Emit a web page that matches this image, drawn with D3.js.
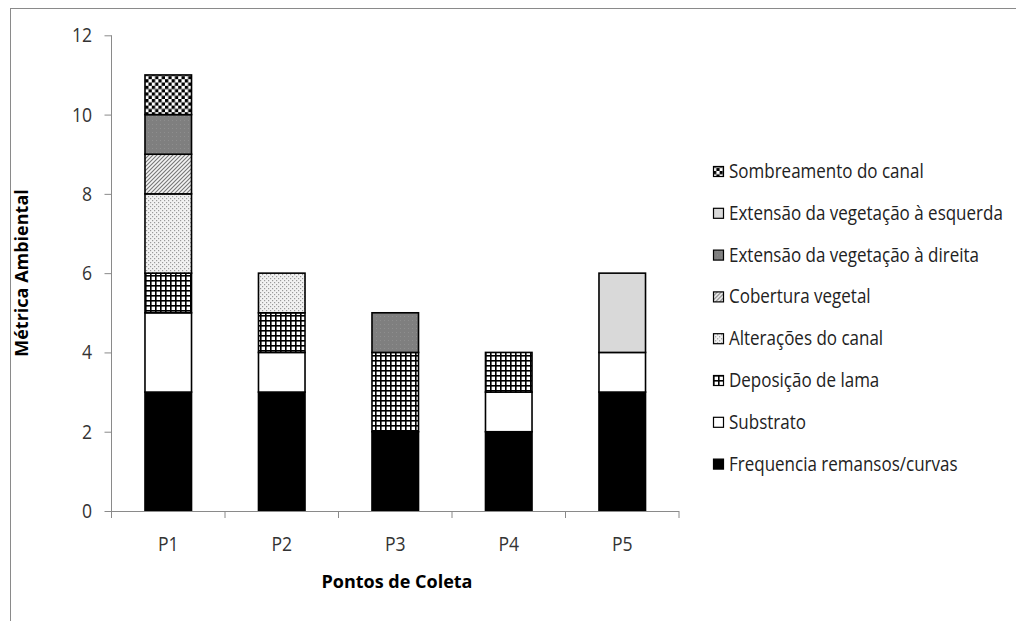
<!DOCTYPE html>
<html><head><meta charset="utf-8">
<script src="https://cdn.jsdelivr.net/npm/d3@7"></script>
<style>body{margin:0;background:#fff}svg{display:block}text{font-family:"Open Sans",sans-serif}</style>
</head><body><svg id="c" width="1016" height="621"></svg>
<script>
const categories = ["P1","P2","P3","P4","P5"];
const seriesNames = ["Frequencia remansos/curvas","Substrato","Deposição de lama","Alterações do canal","Cobertura vegetal","Extensão da vegetação à direita","Extensão da vegetação à esquerda","Sombreamento do canal"];
const frequencia = [3,3,2,2,3];
const substrato = [2,1,0,1,1];
const deposicao = [1,1,2,1,0];
const alteracoes = [2,1,0,0,0];
const cobertura = [1,0,0,0,0];
const extDireita = [1,0,1,0,0];
const extEsquerda = [0,0,0,0,2];
const sombreamento = [1,0,0,0,0];
const yTicks = [0,2,4,6,8,10,12];

const seriesValues = [frequencia,substrato,deposicao,alteracoes,cobertura,extDireita,extEsquerda,sombreamento];
const svg = d3.select("#c");
const defs = svg.append("defs");
function pat(id,w,h,draw){const p=defs.append("pattern").attr("id",id).attr("patternUnits","userSpaceOnUse").attr("width",w).attr("height",h);draw(p);}
pat("p-grid",5,5,p=>{p.append("rect").attr("width",5).attr("height",5).attr("fill","#fff");p.append("rect").attr("width",5).attr("height",1.6).attr("fill","#000");p.append("rect").attr("width",1.6).attr("height",5).attr("fill","#000");});
pat("p-dots",4,4,p=>{p.append("rect").attr("width",4).attr("height",4).attr("fill","#f2f2f2");p.append("rect").attr("width",1.2).attr("height",1.2).attr("fill","#9a9a9a");p.append("rect").attr("x",2).attr("y",2).attr("width",1.2).attr("height",1.2).attr("fill","#9a9a9a");});
pat("p-diag",4,4,p=>{p.append("rect").attr("width",4).attr("height",4).attr("fill","#f4f4f4");p.append("path").attr("d","M-1,5 L5,-1 M-1,1 L1,-1 M3,5 L5,3").attr("stroke","#777").attr("stroke-width",1.1);});
pat("p-dark",4,4,p=>{p.append("rect").attr("width",4).attr("height",4).attr("fill","#7f7f7f");p.append("rect").attr("width",1).attr("height",1).attr("fill","#8e8e8e");});
pat("p-check",6.6,6.6,p=>{p.append("rect").attr("width",6.6).attr("height",6.6).attr("fill","#fff");p.append("rect").attr("width",3.3).attr("height",3.3).attr("fill","#000");p.append("rect").attr("x",3.3).attr("y",3.3).attr("width",3.3).attr("height",3.3).attr("fill","#000");});
const fills = ["#000","#fff","url(#p-grid)","url(#p-dots)","url(#p-diag)","url(#p-dark)","#d9d9d9","url(#p-check)"];

// outer frame
svg.append("rect").attr("x",10.5).attr("y",8.5).attr("width",1020).attr("height",640).attr("fill","none").attr("stroke","#8a8a8a").attr("stroke-width",1);

const x0=111.5, x1=679, yb=511, yt=35.3;
const x = d3.scaleBand().domain(categories).range([x0,x1]).paddingInner(0.59).paddingOuter(0.295);
const y = d3.scaleLinear().domain([0,12]).range([yb,yt]);

const stack = d3.stack().keys(d3.range(seriesNames.length)).value((d,k)=>seriesValues[k][d]);
const stacked = stack(d3.range(categories.length));

stacked.forEach((s,k)=>{
  svg.append("g").selectAll("rect").data(s.filter(d=>d[1]>d[0])).join("rect")
    .attr("x",d=>x(categories[d.data])).attr("width",x.bandwidth())
    .attr("y",d=>y(d[1])).attr("height",d=>y(d[0])-y(d[1]))
    .attr("fill",fills[k]).attr("stroke","#000").attr("stroke-width",1.6);
});

// y axis
const ya = svg.append("g").attr("transform",`translate(${x0},0)`).call(d3.axisLeft(y).tickValues(yTicks).tickSize(7).tickPadding(0).tickFormat(()=>""));
ya.select(".domain").attr("stroke","#8a8a8a").attr("d",`M0,${yt}V${yb}`);
ya.selectAll(".tick line").attr("stroke","#8a8a8a");
svg.append("g").selectAll("text").data(yTicks).join("text")
  .attr("transform",d=>`translate(92,${y(d)+7}) scale(0.88,1)`)
  .attr("text-anchor","end").attr("font-size",20).attr("fill","#333").text(d=>d);

// x axis
const xa = d3.scaleLinear().domain([0,5]).range([x0,x1]);
const xg = svg.append("g");
xg.append("line").attr("x1",x0).attr("x2",x1).attr("y1",yb+0.5).attr("y2",yb+0.5).attr("stroke","#8a8a8a");
xg.selectAll("line.t").data(d3.range(6)).join("line").attr("class","t")
  .attr("x1",d=>xa(d)).attr("x2",d=>xa(d)).attr("y1",yb).attr("y2",yb+7).attr("stroke","#8a8a8a");
xg.selectAll("text").data(categories).join("text")
  .attr("transform",d=>`translate(${x(d)+x.bandwidth()/2},551) scale(0.88,1)`)
  .attr("text-anchor","middle").attr("font-size",20).attr("fill","#333").text(d=>d);

svg.append("text").attr("transform","translate(28,273) rotate(-90)").attr("text-anchor","middle").attr("font-size",18).attr("font-weight","bold").text("Métrica Ambiental");
svg.append("text").attr("x",397).attr("y",588).attr("text-anchor","middle").attr("font-size",18).attr("font-weight","bold").text("Pontos de Coleta");

// legend
const order = d3.range(seriesNames.length).reverse();
const lg = svg.append("g").selectAll("g").data(order).join("g").attr("transform",(d,i)=>`translate(713,${171+i*41.8})`);
lg.append("rect").attr("x",0.5).attr("y",-4.5).attr("width",10).attr("height",10).attr("fill",d=>fills[d]).attr("stroke","#000").attr("stroke-width",1.2);
lg.append("text").attr("transform","translate(16,7) scale(0.85,1)").attr("font-size",20).attr("fill","#222").text(d=>seriesNames[d]);
</script></body></html>
